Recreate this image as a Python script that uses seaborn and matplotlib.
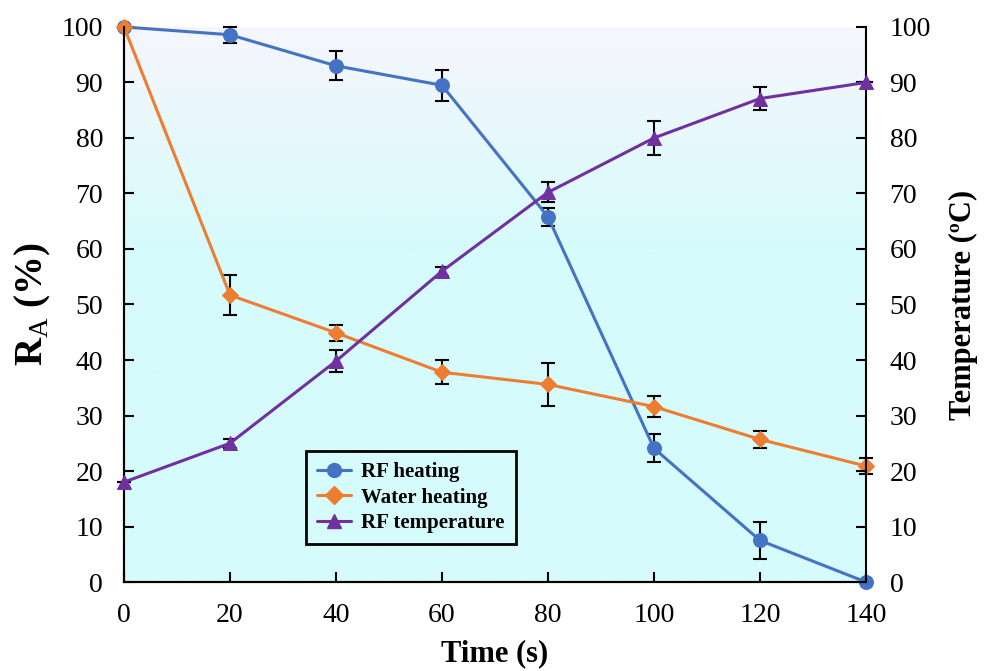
import numpy as np
import matplotlib
matplotlib.use("Agg")
import matplotlib.pyplot as plt
import seaborn as sns
import pandas as pd
from matplotlib.colors import LinearSegmentedColormap
from matplotlib.lines import Line2D

time = [0, 20, 40, 60, 80, 100, 120, 140]
rf_heating = [100, 98.6, 93.0, 89.5, 65.8, 24.1, 7.5, 0]
rf_heating_err = [0, 1.4, 2.6, 2.8, 1.6, 2.5, 3.4, 0]
water_heating = [100, 51.7, 44.9, 37.8, 35.6, 31.6, 25.7, 20.9]
water_heating_err = [0, 3.6, 1.4, 2.2, 3.9, 1.9, 1.5, 1.5]
rf_temp = [18, 25, 39.8, 56, 70.2, 80, 87.1, 90]
rf_temp_err = [0, 0.8, 2.0, 0.8, 1.8, 3.0, 2.0, 0]

blue = "#4472C4"
orange = "#ED7D31"
purple = "#7030A0"

sns.set_theme(style="ticks")
plt.rcParams["font.family"] = ["Liberation Serif", "DejaVu Serif"]
plt.rcParams["mathtext.fontset"] = "custom"
plt.rcParams["mathtext.rm"] = "Liberation Serif"
plt.rcParams["mathtext.bf"] = "Liberation Serif:bold"
plt.rcParams["text.color"] = "black"
plt.rcParams["axes.labelcolor"] = "black"

fig = plt.figure(figsize=(9.84, 6.71), dpi=100)
ax = fig.add_axes([0.126, 0.1326, 0.754, 0.8272])

# gradient background
grad = np.linspace(0, 1, 256).reshape(-1, 1)
cmap = LinearSegmentedColormap.from_list("bg", [(0, "#d6fbfc"), (0.6, "#d6fbfc"), (1.0, "#f6f6fc")])
ax.imshow(grad, extent=[0, 1, 0, 1], transform=ax.transAxes, cmap=cmap,
          aspect="auto", origin="lower", zorder=0)

df = pd.DataFrame({"time": time, "rf": rf_heating, "water": water_heating, "temp": rf_temp})

ax.errorbar(time, rf_heating, yerr=rf_heating_err, fmt="none", ecolor="black",
            elinewidth=1.5, capsize=5, capthick=1.5, zorder=3, clip_on=False)
ax.errorbar(time, water_heating, yerr=water_heating_err, fmt="none", ecolor="black",
            elinewidth=1.5, capsize=5, capthick=1.5, zorder=3, clip_on=False)
sns.lineplot(data=df, x="time", y="rf", ax=ax, color=blue, marker="o", markersize=10,
             markeredgecolor=blue, linewidth=2.2, zorder=4, clip_on=False)
sns.lineplot(data=df, x="time", y="water", ax=ax, color=orange, marker="D", markersize=8.5,
             markeredgecolor=orange, linewidth=2.2, zorder=4, clip_on=False)

ax2 = ax.twinx()
ax2.errorbar(time, rf_temp, yerr=rf_temp_err, fmt="none", ecolor="black",
             elinewidth=1.5, capsize=5, capthick=1.5, zorder=3, clip_on=False)
sns.lineplot(data=df, x="time", y="temp", ax=ax2, color=purple, marker="^", markersize=10,
             markeredgecolor=purple, linewidth=2.2, zorder=4, clip_on=False)

for a in (ax, ax2):
    a.set_xlim(0, 140)
    a.set_ylim(0, 100)
    a.set_yticks(range(0, 101, 10))
    a.tick_params(direction="in", length=7, width=1.5, labelsize=20,
                  colors="black", labelcolor="black")
    for s in a.spines.values():
        s.set_linewidth(1.5)
        s.set_color("black")
    a.spines["top"].set_visible(False)

ax.set_xticks(time)
ax.tick_params(axis="y", pad=15)
ax.tick_params(axis="x", pad=15)
ax2.tick_params(axis="y", pad=17)
ax.spines["right"].set_visible(False)

ax.set_xlabel("Time (s)", fontsize=22, fontweight="bold", labelpad=8, color="black")
ax.set_ylabel(r"$\mathbf{R}_{\mathrm{A}}$ (%)", fontsize=28, fontweight="bold", labelpad=6, color="black")
ax2.set_ylabel("Temperature (ºC)", fontsize=22, fontweight="bold", labelpad=13, color="black")

handles = [
    Line2D([], [], color=blue, marker="o", markersize=10, linewidth=2.2),
    Line2D([], [], color=orange, marker="D", markersize=9, linewidth=2.2),
    Line2D([], [], color=purple, marker="^", markersize=10, linewidth=2.2),
]
labels = ["RF heating", "Water heating", "RF temperature"]
leg = ax.legend(handles, labels, loc="lower left", bbox_to_anchor=(0.245, 0.068),
                borderaxespad=0,
                prop={"family": "Liberation Serif", "weight": "bold", "size": 15},
                frameon=True, fancybox=False, edgecolor="black", facecolor="#d6fbfc",
                framealpha=1, borderpad=0.55, handlelength=1.6, labelspacing=0.25,
                handletextpad=0.5)
leg.get_frame().set_linewidth(2)
leg.set_zorder(10)
for t in leg.get_texts():
    t.set_color("black")

fig.savefig("out.png", dpi=100)
